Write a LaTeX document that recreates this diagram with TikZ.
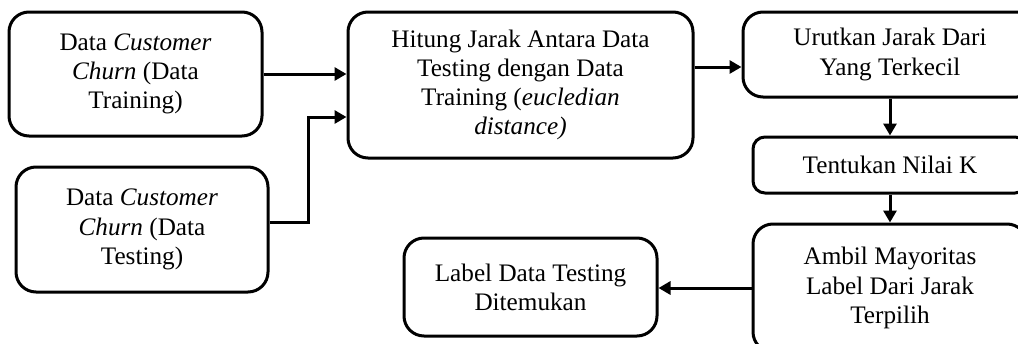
\documentclass[tikz,border=0pt]{standalone}
\usepackage{fontspec}
\setmainfont{Liberation Serif}
\usetikzlibrary{positioning}
\usetikzlibrary{arrows.meta}

\begin{document}
\begin{tikzpicture}[x=0.5pt,y=-0.5pt,
    box/.style={draw,line width=1.5pt,rounded corners=10pt,align=center,
                inner sep=0pt,font=\fontsize{12.6}{14.6}\selectfont},
    flow/.style={line width=1.5pt,-{Triangle[length=6pt,width=6.5pt]}}]
    %frame
    \useasboundingbox (0,0) rectangle (1018,343);
    \clip (0,0) rectangle (1018,343);
    % Input data
    \node[box,minimum width=126.5pt,minimum height=62pt] (train) at (135.5,74)
        {Data \textit{Customer}\\ \textit{Churn} (Data\\ Training)};
    \node[box,minimum width=126pt,minimum height=62.5pt] (test) at (142,229.5)
        {Data \textit{Customer}\\ \textit{Churn} (Data\\ Testing)};
    % Distance
    \node[box,minimum width=172.5pt,minimum height=73pt] (jarak) at (520.5,85)
        {Hitung Jarak Antara Data\\ Testing dengan Data\\ Training (\textit{eucledian}\\ \textit{distance)}};
    % Right column
    \node[box,minimum width=147pt,minimum height=42.5pt] (urut) at (890,54.5)
        {Urutkan Jarak Dari\\ Yang Terkecil};
    \node[box,rounded corners=6pt,minimum width=137pt,minimum height=28pt] (nilaik) at (890,165)
        {Tentukan Nilai K};
    \node[box,minimum width=137pt,minimum height=64pt] (mayor) at (890,288)
        {Ambil Mayoritas\\ Label Dari Jarak\\ Terpilih};
    % Result
    \node[box,minimum width=126.5pt,minimum height=49pt] (hasil) at (530.5,287)
        {Label Data Testing\\ Ditemukan};
    % Arrows
    \draw[flow] (train.east) -- (train.east -| jarak.west);
    \draw[flow] ([yshift=3.75pt]test.east) -| (308,117) -- ([yshift=-16pt]jarak.west);
    \draw[flow] ([yshift=9pt]jarak.east) -- ([yshift=9pt]jarak.east -| urut.west);
    \draw[flow] (urut.south) -- (nilaik.north);
    \draw[flow] (nilaik.south) -- (mayor.north);
    \draw[flow] (mayor.west) -- (mayor.west -| hasil.east);
\end{tikzpicture}
\end{document}
